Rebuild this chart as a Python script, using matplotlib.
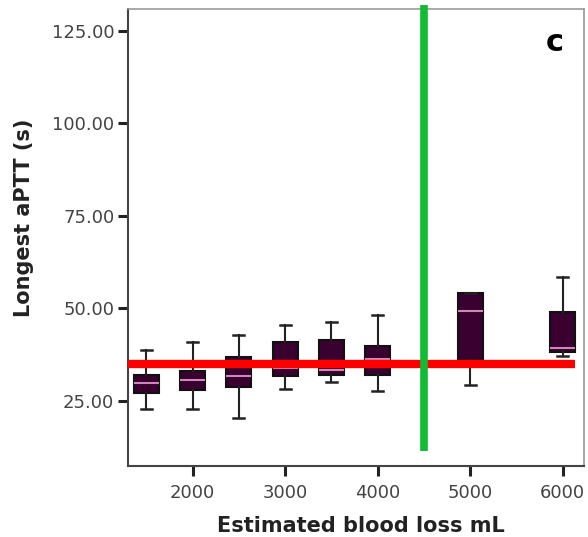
import matplotlib.pyplot as plt

# estimated blood loss groups (mL)
blood_loss = [1500, 2000, 2500, 3000, 3500, 4000, 5000, 6000]
whisker_lo = [22.8, 22.8, 20.3, 28.2, 30.0, 27.7, 29.3, 37.0]
q1 = [27.1, 28.0, 28.7, 31.8, 32.0, 32.0, 36.1, 38.1]
median = [29.8, 30.7, 31.6, 34.0, 33.4, 36.4, 49.4, 39.4]
q3 = [32.0, 33.2, 36.8, 40.9, 41.5, 39.7, 54.1, 49.1]
whisker_hi = [38.8, 40.8, 42.8, 45.5, 46.3, 48.2, 54.1, 58.6]

ref_aptt = 35.0
cutoff_loss = 4500

yticks = [25, 50, 75, 100, 125]
xticks = [2000, 3000, 4000, 5000, 6000]

stats = []
for i in range(len(blood_loss)):
    stats.append({"whislo": whisker_lo[i], "q1": q1[i], "med": median[i],
                  "q3": q3[i], "whishi": whisker_hi[i], "fliers": []})

fig = plt.figure(figsize=(5.88, 5.37), dpi=100)
ax = fig.add_axes([0.218, 0.132, 0.775, 0.851])

ax.bxp(stats, positions=blood_loss, widths=270, patch_artist=True,
       showfliers=False, manage_ticks=False,
       boxprops=dict(facecolor="#3a0030", edgecolor="#111111", linewidth=1.5),
       medianprops=dict(color="#c98ab8", linewidth=1.5),
       whiskerprops=dict(color="#222222", linewidth=1.5),
       capprops=dict(color="#222222", linewidth=1.8),
       capwidths=120)

ax.plot([1300, 6130], [ref_aptt, ref_aptt], color="#ff0000", linewidth=6,
        solid_capstyle="butt", zorder=5)
ax.plot([cutoff_loss, cutoff_loss], [11.5, 132], color="#11bb33", linewidth=5.5,
        solid_capstyle="butt", zorder=6, clip_on=False)

ax.set_xlim(1303, 6228)
ax.set_ylim(7.4, 130.8)
ax.set_xticks(xticks)
ax.set_xticklabels([str(x) for x in xticks])
ax.set_yticks(yticks)
ax.set_yticklabels(["%.2f" % y for y in yticks])

ax.tick_params(direction="out", length=7, width=2.2, labelsize=13,
               labelcolor="#444444", color="#222222", pad=3)
ax.tick_params(axis="x", pad=6)
for side in ["left", "bottom"]:
    ax.spines[side].set_color("#444444")
    ax.spines[side].set_linewidth(1.5)
for side in ["top", "right"]:
    ax.spines[side].set_color("#999999")
    ax.spines[side].set_linewidth(1.2)

ax.set_xlabel("Estimated blood loss mL", fontsize=15, fontweight="bold",
              color="#222222")
ax.set_ylabel("Longest aPTT (s)", fontsize=15, fontweight="bold",
              color="#222222")
ax.xaxis.set_label_coords(0.51, -0.109)
ax.yaxis.set_label_coords(-0.207, 0.543)

ax.text(0.936, 0.928, "c", transform=ax.transAxes, fontsize=22,
        fontweight="bold", ha="center", va="center")

fig.savefig("out.png", dpi=100)
